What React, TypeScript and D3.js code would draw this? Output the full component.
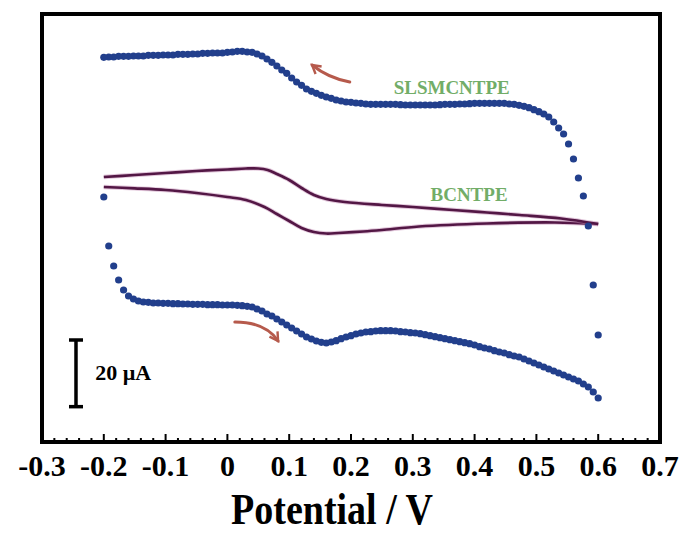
import React, { useEffect, useRef } from 'react';
import * as d3 from 'd3';

const WIDTH = 688;
const HEIGHT = 535;

// x axis (potential, V)
const xMajorTicks = [-0.3, -0.2, -0.1, 0, 0.1, 0.2, 0.3, 0.4, 0.5, 0.6, 0.7];
const xTickLabels = ['-0.3', '-0.2', '-0.1', '0', '0.1', '0.2', '0.3', '0.4', '0.5', '0.6', '0.7'];
const xMinorStep = 0.02;

// SLSMCNTPE, one sample every 8 mV
const scanStep = 0.008;
const slsmForwardStart = -0.2; // -0.2 -> 0.6
const slsmForward = [
  11.4, -3.3, -9.3, -13.5, -16.5, -18.3, -19.2, -19.8, -20.1, -20.2,
  -20.4, -20.4, -20.5, -20.5, -20.6, -20.6, -20.7, -20.7, -20.8, -20.8,
  -20.8, -20.9, -20.9, -20.9, -21.0, -21.0, -21.0, -21.1, -21.2, -21.4,
  -21.6, -22.2, -22.8, -23.7, -24.3, -25.2, -26.1, -27.0, -27.9, -28.8,
  -29.7, -30.6, -31.2, -31.8, -32.2, -32.4, -32.1, -31.7, -31.1, -30.6,
  -30.2, -29.7, -29.4, -29.1, -29.0, -28.8, -28.7, -28.7, -28.7, -28.8,
  -29.0, -29.1, -29.3, -29.4, -29.6, -29.9, -30.2, -30.5, -30.8, -31.1,
  -31.4, -31.7, -32.0, -32.3, -32.6, -33.0, -33.5, -33.9, -34.2, -34.7,
  -35.1, -35.4, -35.9, -36.3, -36.6, -37.2, -37.8, -38.4, -39.0, -39.6,
  -40.2, -40.8, -41.4, -42.0, -42.6, -43.2, -43.8, -44.7, -45.6, -47.1,
  -48.9,
];
const slsmReverseStart = 0.6; // 0.6 -> -0.2
const slsmReverse = [
  -30.0, -15.0, 2.7, 11.7, 17.1, 22.8, 27.3, 30.3, 32.1, 33.9,
  35.4, 36.3, 37.0, 37.6, 38.2, 38.6, 38.9, 39.2, 39.3, 39.5,
  39.5, 39.5, 39.5, 39.5, 39.5, 39.5, 39.4, 39.3, 39.3, 39.2,
  39.2, 39.2, 39.1, 39.0, 39.0, 39.0, 39.0, 39.0, 39.0, 39.0,
  39.1, 39.2, 39.2, 39.2, 39.2, 39.2, 39.2, 39.3, 39.5, 39.6,
  39.8, 39.9, 40.2, 40.5, 41.0, 41.4, 41.9, 42.5, 43.1, 43.8,
  44.9, 45.9, 47.1, 48.5, 49.5, 50.7, 51.8, 52.8, 53.7, 54.3,
  54.8, 54.9, 55.1, 55.1, 54.9, 54.8, 54.6, 54.6, 54.6, 54.5,
  54.5, 54.3, 54.3, 54.2, 54.2, 54.2, 54.0, 54.0, 54.0, 53.9,
  53.9, 53.9, 53.7, 53.7, 53.7, 53.6, 53.6, 53.6, 53.4, 53.4,
  53.3,
];

// BCNTPE
const bcForwardE = [-0.2, -0.15, -0.1, -0.05, 0, 0.03, 0.06, 0.08, 0.1, 0.12, 0.14, 0.16, 0.18, 0.22, 0.25, 0.31, 0.42, 0.53, 0.6];
const bcForwardI = [14.4, 14.0, 13.5, 12.6, 11.4, 10.5, 8.4, 6.3, 4.2, 2.1, 0.9, 0.45, 0.6, 1.05, 1.5, 2.55, 3.45, 3.75, 3.3];
const bcReverseE = [0.6, 0.54, 0.473, 0.42, 0.365, 0.3, 0.25, 0.19, 0.16, 0.14, 0.12, 0.1, 0.08, 0.065, 0.05, 0.03, 0, -0.05, -0.1, -0.15, -0.2];
const bcReverseI = [3.3, 4.95, 6.0, 6.75, 7.5, 8.4, 9.0, 9.9, 10.8, 12.0, 14.1, 16.5, 18.3, 19.5, 19.95, 19.95, 19.65, 19.2, 18.6, 18.0, 17.4];

// scan direction arrows: [E, I] tail, bend, head
const arrowReverse = [[0.198, 45.9], [0.163, 47.1], [0.137, 51.0]];
const arrowForward = [[0.012, -26.1], [0.062, -26.1], [0.082, -31.8]];

// scale bar (µA)
const scaleBarE = -0.245;
const scaleBarI = [-31.5, -51.5];

const DOT = '#223f8c';
const LINE = '#531745';
const ARROW = '#b65a4c';
const GREEN = '#72ad68';
const SERIF = '"Liberation Serif", "Times New Roman", serif';

const App = () => {
  const svgRef = useRef<SVGSVGElement>(null);

  useEffect(() => {
    const svg = d3.select(svgRef.current);
    svg.selectAll('*').remove();

    const x = d3.scaleLinear().domain([-0.3, 0.7]).range([42, 660]);
    const y = d3.scaleLinear().domain([-62.1, 66.3]).range([442, 14]);

    const defs = svg.append('defs');
    defs
      .append('marker')
      .attr('id', 'head')
      .attr('viewBox', '0 0 10 10')
      .attr('refX', 8)
      .attr('refY', 5)
      .attr('markerWidth', 4)
      .attr('markerHeight', 4)
      .attr('markerUnits', 'strokeWidth')
      .attr('orient', 'auto')
      .append('path')
      .attr('d', 'M1,1 L8,5 L1,9')
      .attr('fill', 'none')
      .attr('stroke', ARROW)
      .attr('stroke-width', 2);

    // BCNTPE
    const line = d3
      .line<number[]>()
      .x((d) => x(d[0]))
      .y((d) => y(d[1]))
      .curve(d3.curveCatmullRom);
    [
      bcForwardE.map((e, i) => [e, bcForwardI[i]]),
      bcReverseE.map((e, i) => [e, bcReverseI[i]]),
    ].forEach((pts) => {
      svg
        .append('path')
        .attr('d', line(pts))
        .attr('fill', 'none')
        .attr('stroke', '#c58fb8')
        .attr('stroke-opacity', 0.5)
        .attr('stroke-width', 4.5);
      svg
        .append('path')
        .attr('d', line(pts))
        .attr('fill', 'none')
        .attr('stroke', LINE)
        .attr('stroke-width', 2.7);
    });

    // SLSMCNTPE dots
    const dots = [
      ...slsmForward.map((v, i) => [slsmForwardStart + i * scanStep, v]),
      ...slsmReverse.map((v, i) => [slsmReverseStart - i * scanStep, v]),
    ];
    svg
      .append('g')
      .selectAll('circle')
      .data(dots)
      .join('circle')
      .attr('cx', (d) => x(d[0]))
      .attr('cy', (d) => y(d[1]))
      .attr('r', 3.6)
      .attr('fill', DOT);

    // arrows
    const arrowPath = (p: number[][]) =>
      `M${x(p[0][0])},${y(p[0][1])} Q${x(p[1][0])},${y(p[1][1])} ${x(p[2][0])},${y(p[2][1])}`;
    [arrowReverse, arrowForward].forEach((p) => {
      svg
        .append('path')
        .attr('d', arrowPath(p))
        .attr('fill', 'none')
        .attr('stroke', ARROW)
        .attr('stroke-width', 3)
        .attr('stroke-linecap', 'round')
        .attr('marker-end', 'url(#head)');
    });

    // labels
    svg
      .append('text')
      .attr('x', x(0.363))
      .attr('y', y(42.2))
      .attr('text-anchor', 'middle')
      .attr('font-family', SERIF)
      .attr('font-weight', 'bold')
      .attr('font-size', 19)
      .attr('fill', GREEN)
      .text('SLSMCNTPE');
    svg
      .append('text')
      .attr('x', x(0.391))
      .attr('y', y(10.1))
      .attr('text-anchor', 'middle')
      .attr('font-family', SERIF)
      .attr('font-weight', 'bold')
      .attr('font-size', 19)
      .attr('fill', GREEN)
      .text('BCNTPE');

    // scale bar
    const bar = svg.append('g').attr('stroke', '#000').attr('stroke-width', 3.5);
    bar
      .append('line')
      .attr('x1', x(scaleBarE))
      .attr('x2', x(scaleBarE))
      .attr('y1', y(scaleBarI[0]))
      .attr('y2', y(scaleBarI[1]));
    scaleBarI.forEach((v) => {
      bar
        .append('line')
        .attr('x1', x(scaleBarE) - 7)
        .attr('x2', x(scaleBarE) + 7)
        .attr('y1', y(v))
        .attr('y2', y(v));
    });
    svg
      .append('text')
      .attr('x', x(-0.214))
      .attr('y', y(-43.4))
      .attr('font-family', SERIF)
      .attr('font-weight', 'bold')
      .attr('font-size', 22)
      .text('20 µA');

    // frame
    svg
      .append('rect')
      .attr('x', 42)
      .attr('y', 14)
      .attr('width', 618)
      .attr('height', 428)
      .attr('fill', 'none')
      .attr('stroke', '#000')
      .attr('stroke-width', 4);

    // bottom ticks (inward)
    const minor = d3.range(-0.3, 0.7001, xMinorStep);
    svg
      .append('g')
      .selectAll('line')
      .data(minor)
      .join('line')
      .attr('x1', (d) => x(d))
      .attr('x2', (d) => x(d))
      .attr('y1', 442)
      .attr('y2', (d, i) => (i % 5 === 0 ? 434 : 438))
      .attr('stroke', '#000')
      .attr('stroke-width', 2);

    svg
      .append('g')
      .selectAll('text')
      .data(xMajorTicks)
      .join('text')
      .attr('x', (d) => x(d))
      .attr('y', 476)
      .attr('text-anchor', 'middle')
      .attr('font-family', SERIF)
      .attr('font-weight', 'bold')
      .attr('font-size', 30)
      .text((d, i) => xTickLabels[i]);

    svg
      .append('text')
      .attr('x', 332)
      .attr('y', 524)
      .attr('text-anchor', 'middle')
      .attr('font-family', SERIF)
      .attr('font-weight', 'bold')
      .attr('font-size', 45)
      .attr('textLength', 202)
      .attr('lengthAdjust', 'spacingAndGlyphs')
      .text('Potential / V');
  }, []);

  return (
    <div style={{ position: 'absolute', left: 0, top: 0 }}>
      <svg ref={svgRef} width={WIDTH} height={HEIGHT} style={{ display: 'block', background: '#fff' }} />
    </div>
  );
};

export default App;
